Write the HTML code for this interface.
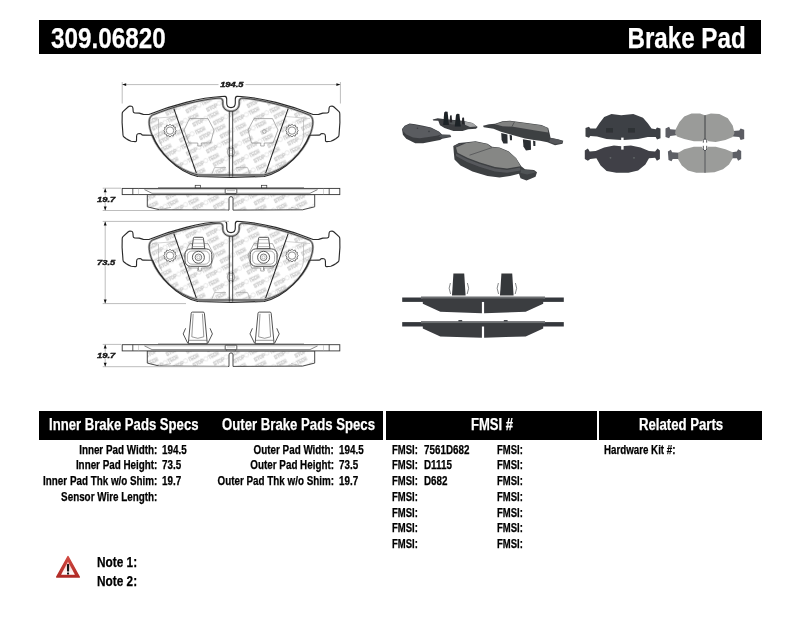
<!DOCTYPE html>
<html><head><meta charset="utf-8"><title>309.06820 Brake Pad</title>
<style>
html,body{margin:0;padding:0;background:#fff;}
body{width:800px;height:619px;position:relative;overflow:hidden;font-family:"Liberation Sans",sans-serif;font-weight:bold;}
.bar{position:absolute;background:#000;}
.t{position:absolute;white-space:pre;display:block;-webkit-text-stroke:0.25px currentColor;}
svg{position:absolute;left:0;top:0;}
</style></head><body>
<div class="bar" style="left:39px;top:20.3px;width:722.4px;height:34.2px"></div>
<div class="bar" style="left:39px;top:410.5px;width:344px;height:29.5px"></div>
<div class="bar" style="left:386px;top:410.5px;width:210.7px;height:29.5px"></div>
<div class="bar" style="left:599.4px;top:410.5px;width:163px;height:29.5px"></div>
<svg width="800" height="619" viewBox="0 0 800 619">
<defs>
<pattern id="wm" width="38" height="15" patternUnits="userSpaceOnUse" patternTransform="rotate(-27)">
<g font-family="Liberation Sans, sans-serif" font-weight="bold" font-size="5.2" fill="#e2e2e2" stroke="#c9c9c9" stroke-width="0.45">
<text x="1" y="6" textLength="12" lengthAdjust="spacingAndGlyphs">STOP</text><circle cx="15.5" cy="4" r="2.1" fill="none"/><text x="18.5" y="6" textLength="11" lengthAdjust="spacingAndGlyphs">TECH</text>
<text x="20" y="13.5" textLength="12" lengthAdjust="spacingAndGlyphs">STOP</text><circle cx="34.5" cy="11.5" r="2.1" fill="none"/><text x="-0.5" y="13.5" textLength="11" lengthAdjust="spacingAndGlyphs">TECH</text>
</g>
</pattern>
<filter id="b0" x="-2%" y="-2%" width="104%" height="104%"><feGaussianBlur stdDeviation="0.32"/></filter>
<filter id="b1" x="-5%" y="-5%" width="110%" height="110%"><feGaussianBlur stdDeviation="0.45"/></filter>
<filter id="b2" x="-5%" y="-5%" width="110%" height="110%"><feGaussianBlur stdDeviation="0.7"/></filter>
<marker id="ar" viewBox="0 0 10 10" refX="10" refY="5" markerWidth="7" markerHeight="5" orient="auto-start-reverse"><path d="M0 1.5 L10 5 L0 8.5z" fill="#222"/></marker>
</defs>
<g filter="url(#b0)">
<path d="M122.2 84.6 L218.5 84.6 M245.5 84.6 L340.4 84.6 M122.2 82 L122.2 103.5 M340.4 82 L340.4 103.5" stroke="#bdbdbd" stroke-width="1.0" fill="none"/>
<polygon points="122.2,84.6 126.2,83.14999999999999 126.2,86.05" fill="#111"/>
<polygon points="340.4,84.6 336.4,83.14999999999999 336.4,86.05" fill="#111"/>
<text x="231.8" y="87.1" font-family="Liberation Sans, sans-serif" font-weight="bold" font-style="italic" font-size="7.8" fill="#161616" stroke="#161616" stroke-width="0.4" text-anchor="middle" textLength="23.2" lengthAdjust="spacingAndGlyphs">194.5</text>
<g transform="translate(0,0)">
<path d="M231.0 107.6 C228.40 107.60 226.70 105.60 226.70 103.00 L226.70 99.30 C226.70 97.60 226.40 96.60 225.00 96.40 L221.00 96.50 C201.00 97.60 172.00 105.00 148.90 114.50 L143.30 114.40 L139.20 113.10 L134.60 112.90 Q133.20 112.70 133.20 111.50 L132.90 108.00 Q132.80 106.40 131.50 106.20 L130.00 106.10 Q129.00 106.10 128.00 107.00 L123.00 111.70 Q122.20 112.50 122.20 113.80 L122.10 122.60 L123.00 135.00 Q123.10 136.30 124.00 137.00 L126.30 138.80 Q128.50 140.40 131.20 141.20 L135.30 141.60 Q136.50 141.70 136.50 140.50 L136.60 136.00 Q136.70 134.20 138.00 133.80 L140.00 133.50 Q141.00 133.50 141.50 134.40 Q142.00 135.10 143.00 135.10 L152.60 135.30 C158.00 150.00 175.00 171.00 197.80 176.50 L231.00 177.40 L264.20 176.50 C287.00 171.00 304.00 150.00 309.40 135.30 L319.00 135.10 Q320.00 135.10 320.50 134.40 Q321.00 133.50 322.00 133.50 L324.00 133.80 Q325.30 134.20 325.40 136.00 L325.50 140.50 Q325.50 141.70 326.70 141.60 L330.80 141.20 Q333.50 140.40 335.70 138.80 L338.00 137.00 Q338.90 136.30 339.00 135.00 L339.90 122.60 L339.80 113.80 Q339.80 112.50 339.00 111.70 L334.00 107.00 Q333.00 106.10 332.00 106.10 L330.50 106.20 Q329.20 106.40 329.10 108.00 L328.80 111.50 Q328.80 112.70 327.40 112.90 L322.80 113.10 L318.70 114.40 L313.10 114.50 C290.00 105.00 261.00 97.60 241.00 96.50 L237.00 96.40 C235.60 96.60 235.30 97.60 235.30 99.30 L235.30 103.00 C235.30 105.60 233.60 107.60 231.00 107.60Z" fill="#fff"/>
<path d="M231.0 111.3 C226.0 111.3 222.8 108 222.8 104 L222.8 101.5 C222.8 99.3 221.5 98.1 219.0 98.1 C201 99.4 173 106.5 152.2 115.2 C148.6 117.5 147.6 124 152.5 136.3 C158.5 151.5 176 170 198.3 175 L263.7 175 C286.0 170 303.5 151.5 309.5 136.3 C314.4 124 313.4 117.5 309.8 115.2 C289.0 106.5 261.0 99.4 243.0 98.1 C240.5 98.1 239.2 99.3 239.2 101.5 L239.2 104 C239.2 108 236.0 111.3 231.0 111.3Z" fill="url(#wm)"/>
<path d="M184 130 L189.5 118.6 L208 118.6 L214 130 L210.5 143 L201.3 143 L201.3 146 L197.8 146 L197.8 143 L189 143Z" fill="none" stroke="#8a8a8a" stroke-width="0.7"/>
<path d="M158.5 119 L158.5 137 Q159 141 162 146" fill="none" stroke="#aaa" stroke-width="0.6"/>
<path d="M152 118.5 L176 116.5" fill="none" stroke="#b5b5b5" stroke-width="0.6"/>
<polygon points="176.40,130.60 174.95,131.93 175.54,133.80 173.62,134.22 173.20,136.14 171.33,135.55 170.00,137.00 168.67,135.55 166.80,136.14 166.38,134.22 164.46,133.80 165.05,131.93 163.60,130.60 165.05,129.27 164.46,127.40 166.38,126.98 166.80,125.06 168.67,125.65 170.00,124.20 171.33,125.65 173.20,125.06 173.62,126.98 175.54,127.40 174.95,129.27" fill="#fff" stroke="#777" stroke-width="1.0"/><circle cx="170" cy="130.6" r="3.71" fill="#fff" stroke="#808080" stroke-width="0.9"/>
<path d="M173.4 107.3 L197.6 176.6" stroke="#222" stroke-width="1.05" fill="none"/>
<path d="M278.0 130 L272.5 118.6 L254.0 118.6 L248.0 130 L251.5 143 L260.7 143 L260.7 146 L264.2 146 L264.2 143 L273.0 143Z" fill="none" stroke="#8a8a8a" stroke-width="0.7"/>
<path d="M303.5 119 L303.5 137 Q303.0 141 300.0 146" fill="none" stroke="#aaa" stroke-width="0.6"/>
<path d="M310.0 118.5 L286.0 116.5" fill="none" stroke="#b5b5b5" stroke-width="0.6"/>
<polygon points="298.40,130.60 296.95,131.93 297.54,133.80 295.62,134.22 295.20,136.14 293.33,135.55 292.00,137.00 290.67,135.55 288.80,136.14 288.38,134.22 286.46,133.80 287.05,131.93 285.60,130.60 287.05,129.27 286.46,127.40 288.38,126.98 288.80,125.06 290.67,125.65 292.00,124.20 293.33,125.65 295.20,125.06 295.62,126.98 297.54,127.40 296.95,129.27" fill="#fff" stroke="#777" stroke-width="1.0"/><circle cx="292.0" cy="130.6" r="3.71" fill="#fff" stroke="#808080" stroke-width="0.9"/>
<path d="M288.6 107.3 L264.4 176.6" stroke="#222" stroke-width="1.05" fill="none"/>
<circle cx="264.4" cy="131.5" r="1.9" fill="none" stroke="#888" stroke-width="0.6"/>
<path d="M211 176 L214.5 167.6 L226 167.6 M236 167.6 L247.5 167.6 L251 176" fill="none" stroke="#999" stroke-width="0.6"/>
<path d="M231.0 111.3 C226.0 111.3 222.8 108 222.8 104 L222.8 101.5 C222.8 99.3 221.5 98.1 219.0 98.1 C201 99.4 173 106.5 152.2 115.2 C148.6 117.5 147.6 124 152.5 136.3 C158.5 151.5 176 170 198.3 175 L263.7 175 C286.0 170 303.5 151.5 309.5 136.3 C314.4 124 313.4 117.5 309.8 115.2 C289.0 106.5 261.0 99.4 243.0 98.1 C240.5 98.1 239.2 99.3 239.2 101.5 L239.2 104 C239.2 108 236.0 111.3 231.0 111.3Z" fill="none" stroke="#b0b0b0" stroke-width="2.4" stroke-linejoin="round"/>
<path d="M231.0 111.3 C226.0 111.3 222.8 108 222.8 104 L222.8 101.5 C222.8 99.3 221.5 98.1 219.0 98.1 C201 99.4 173 106.5 152.2 115.2 C148.6 117.5 147.6 124 152.5 136.3 C158.5 151.5 176 170 198.3 175 L263.7 175 C286.0 170 303.5 151.5 309.5 136.3 C314.4 124 313.4 117.5 309.8 115.2 C289.0 106.5 261.0 99.4 243.0 98.1 C240.5 98.1 239.2 99.3 239.2 101.5 L239.2 104 C239.2 108 236.0 111.3 231.0 111.3Z" fill="none" stroke="#383838" stroke-width="0.9" stroke-linejoin="round"/>
<path d="M231.0 107.6 C228.40 107.60 226.70 105.60 226.70 103.00 L226.70 99.30 C226.70 97.60 226.40 96.60 225.00 96.40 L221.00 96.50 C201.00 97.60 172.00 105.00 148.90 114.50 L143.30 114.40 L139.20 113.10 L134.60 112.90 Q133.20 112.70 133.20 111.50 L132.90 108.00 Q132.80 106.40 131.50 106.20 L130.00 106.10 Q129.00 106.10 128.00 107.00 L123.00 111.70 Q122.20 112.50 122.20 113.80 L122.10 122.60 L123.00 135.00 Q123.10 136.30 124.00 137.00 L126.30 138.80 Q128.50 140.40 131.20 141.20 L135.30 141.60 Q136.50 141.70 136.50 140.50 L136.60 136.00 Q136.70 134.20 138.00 133.80 L140.00 133.50 Q141.00 133.50 141.50 134.40 Q142.00 135.10 143.00 135.10 L152.60 135.30 C158.00 150.00 175.00 171.00 197.80 176.50 L231.00 177.40 L264.20 176.50 C287.00 171.00 304.00 150.00 309.40 135.30 L319.00 135.10 Q320.00 135.10 320.50 134.40 Q321.00 133.50 322.00 133.50 L324.00 133.80 Q325.30 134.20 325.40 136.00 L325.50 140.50 Q325.50 141.70 326.70 141.60 L330.80 141.20 Q333.50 140.40 335.70 138.80 L338.00 137.00 Q338.90 136.30 339.00 135.00 L339.90 122.60 L339.80 113.80 Q339.80 112.50 339.00 111.70 L334.00 107.00 Q333.00 106.10 332.00 106.10 L330.50 106.20 Q329.20 106.40 329.10 108.00 L328.80 111.50 Q328.80 112.70 327.40 112.90 L322.80 113.10 L318.70 114.40 L313.10 114.50 C290.00 105.00 261.00 97.60 241.00 96.50 L237.00 96.40 C235.60 96.60 235.30 97.60 235.30 99.30 L235.30 103.00 C235.30 105.60 233.60 107.60 231.00 107.60Z" fill="none" stroke="#2c2c2c" stroke-width="1.15" stroke-linejoin="round"/>
<path d="M229.3 111 L229.3 176.6 M232.7 111 L232.7 176.6" stroke="#333" stroke-width="0.9" fill="none"/>
<circle cx="231.0" cy="152" r="3.8" fill="#fff" stroke="#909090" stroke-width="0.8"/><circle cx="231.0" cy="152" r="2.1" fill="none" stroke="#a0a0a0" stroke-width="0.6"/>
<path d="M229.3 147 L229.3 157 M232.7 147 L232.7 157" stroke="#333" stroke-width="0.9" fill="none"/>
</g>
<g transform="translate(0,0)">
<path d="M147.3 194.6 L147.3 206.8 L159.5 209.8 L229.0 210.1 L229.0 198.6 Q229.0 196.6 231.0 196.6 Q233.0 196.6 233.0 198.6 L233.0 210.1 L302.5 209.8 L314.7 206.8 L314.7 194.6Z" fill="#fff"/><path d="M147.3 194.6 L147.3 206.8 L159.5 209.8 L229.0 210.1 L229.0 198.6 Q229.0 196.6 231.0 196.6 Q233.0 196.6 233.0 198.6 L233.0 210.1 L302.5 209.8 L314.7 206.8 L314.7 194.6Z" fill="url(#wm)"/>
<path d="M147.3 194.6 L147.3 206.8 L159.5 209.8 L229.0 210.1 L229.0 198.6 Q229.0 196.6 231.0 196.6 Q233.0 196.6 233.0 198.6 L233.0 210.1 L302.5 209.8 L314.7 206.8 L314.7 194.6Z" fill="none" stroke="#333" stroke-width="0.9" stroke-linejoin="round"/>
<path d="M159.5 209.8 L171 207.3 M302.5 209.8 L291.0 207.3" stroke="#888" stroke-width="0.5"/>
<rect x="122.2" y="188.4" width="217.60000000000002" height="6.2" fill="#fff" stroke="#333" stroke-width="0.9"/>
<path d="M132.8 188.4 L132.8 194.6 M329.2 188.4 L329.2 194.6" stroke="#333" stroke-width="0.8"/>
<path d="M138.5 188.6 L138.5 194.4 M323.5 188.6 L323.5 194.4" stroke="#aaa" stroke-width="0.5"/>
<path d="M144.5 189.6 L152 193.3 L310.0 193.3 L317.5 189.6" fill="none" stroke="#555" stroke-width="0.7"/>
<path d="M144.5 189.6 L317.5 189.6" fill="none" stroke="#999" stroke-width="0.5"/>
<path d="M158 187.7 L304.0 187.7" stroke="#555" stroke-width="0.7"/>
<rect x="195.2" y="185.3" width="5.4" height="2.5" fill="#fff" stroke="#333" stroke-width="0.7"/>
<rect x="261.4" y="185.3" width="5.4" height="2.5" fill="#fff" stroke="#333" stroke-width="0.7"/>
<rect x="225.2" y="188.9" width="11.6" height="4.5" rx="0.6" fill="#fff" stroke="#333" stroke-width="0.8"/>
<path d="M226.6 193.4 L226.6 194.6 M235.4 193.4 L235.4 194.6" stroke="#444" stroke-width="0.6"/>
<path d="M227.0 190.6 L235.0 190.6" stroke="#888" stroke-width="0.5"/>
</g>
<g transform="translate(0,125)">
<path d="M231.0 107.6 C228.40 107.60 226.70 105.60 226.70 103.00 L226.70 99.30 C226.70 97.60 226.40 96.60 225.00 96.40 L221.00 96.50 C201.00 97.60 172.00 105.00 148.90 114.50 L143.30 114.40 L139.20 113.10 L134.60 112.90 Q133.20 112.70 133.20 111.50 L132.90 108.00 Q132.80 106.40 131.50 106.20 L130.00 106.10 Q129.00 106.10 128.00 107.00 L123.00 111.70 Q122.20 112.50 122.20 113.80 L122.10 122.60 L123.00 135.00 Q123.10 136.30 124.00 137.00 L126.30 138.80 Q128.50 140.40 131.20 141.20 L135.30 141.60 Q136.50 141.70 136.50 140.50 L136.60 136.00 Q136.70 134.20 138.00 133.80 L140.00 133.50 Q141.00 133.50 141.50 134.40 Q142.00 135.10 143.00 135.10 L152.60 135.30 C158.00 150.00 175.00 171.00 197.80 176.50 L231.00 177.40 L264.20 176.50 C287.00 171.00 304.00 150.00 309.40 135.30 L319.00 135.10 Q320.00 135.10 320.50 134.40 Q321.00 133.50 322.00 133.50 L324.00 133.80 Q325.30 134.20 325.40 136.00 L325.50 140.50 Q325.50 141.70 326.70 141.60 L330.80 141.20 Q333.50 140.40 335.70 138.80 L338.00 137.00 Q338.90 136.30 339.00 135.00 L339.90 122.60 L339.80 113.80 Q339.80 112.50 339.00 111.70 L334.00 107.00 Q333.00 106.10 332.00 106.10 L330.50 106.20 Q329.20 106.40 329.10 108.00 L328.80 111.50 Q328.80 112.70 327.40 112.90 L322.80 113.10 L318.70 114.40 L313.10 114.50 C290.00 105.00 261.00 97.60 241.00 96.50 L237.00 96.40 C235.60 96.60 235.30 97.60 235.30 99.30 L235.30 103.00 C235.30 105.60 233.60 107.60 231.00 107.60Z" fill="#fff"/>
<path d="M231.0 111.3 C226.0 111.3 222.8 108 222.8 104 L222.8 101.5 C222.8 99.3 221.5 98.1 219.0 98.1 C201 99.4 173 106.5 152.2 115.2 C148.6 117.5 147.6 124 152.5 136.3 C158.5 151.5 176 170 198.3 175 L263.7 175 C286.0 170 303.5 151.5 309.5 136.3 C314.4 124 313.4 117.5 309.8 115.2 C289.0 106.5 261.0 99.4 243.0 98.1 C240.5 98.1 239.2 99.3 239.2 101.5 L239.2 104 C239.2 108 236.0 111.3 231.0 111.3Z" fill="url(#wm)"/>
<path d="M184 130 L189.5 118.6 L208 118.6 L214 130 L210.5 143 L201.3 143 L201.3 146 L197.8 146 L197.8 143 L189 143Z" fill="none" stroke="#8a8a8a" stroke-width="0.7"/>
<path d="M158.5 119 L158.5 137 Q159 141 162 146" fill="none" stroke="#aaa" stroke-width="0.6"/>
<path d="M152 118.5 L176 116.5" fill="none" stroke="#b5b5b5" stroke-width="0.6"/>
<polygon points="176.40,130.60 174.95,131.93 175.54,133.80 173.62,134.22 173.20,136.14 171.33,135.55 170.00,137.00 168.67,135.55 166.80,136.14 166.38,134.22 164.46,133.80 165.05,131.93 163.60,130.60 165.05,129.27 164.46,127.40 166.38,126.98 166.80,125.06 168.67,125.65 170.00,124.20 171.33,125.65 173.20,125.06 173.62,126.98 175.54,127.40 174.95,129.27" fill="#fff" stroke="#777" stroke-width="1.0"/><circle cx="170" cy="130.6" r="3.71" fill="#fff" stroke="#808080" stroke-width="0.9"/>
<path d="M173.4 107.3 L197.6 176.6" stroke="#222" stroke-width="1.05" fill="none"/>
<path d="M278.0 130 L272.5 118.6 L254.0 118.6 L248.0 130 L251.5 143 L260.7 143 L260.7 146 L264.2 146 L264.2 143 L273.0 143Z" fill="none" stroke="#8a8a8a" stroke-width="0.7"/>
<path d="M303.5 119 L303.5 137 Q303.0 141 300.0 146" fill="none" stroke="#aaa" stroke-width="0.6"/>
<path d="M310.0 118.5 L286.0 116.5" fill="none" stroke="#b5b5b5" stroke-width="0.6"/>
<polygon points="298.40,130.60 296.95,131.93 297.54,133.80 295.62,134.22 295.20,136.14 293.33,135.55 292.00,137.00 290.67,135.55 288.80,136.14 288.38,134.22 286.46,133.80 287.05,131.93 285.60,130.60 287.05,129.27 286.46,127.40 288.38,126.98 288.80,125.06 290.67,125.65 292.00,124.20 293.33,125.65 295.20,125.06 295.62,126.98 297.54,127.40 296.95,129.27" fill="#fff" stroke="#777" stroke-width="1.0"/><circle cx="292.0" cy="130.6" r="3.71" fill="#fff" stroke="#808080" stroke-width="0.9"/>
<path d="M288.6 107.3 L264.4 176.6" stroke="#222" stroke-width="1.05" fill="none"/>
<path d="M211 176 L214.5 167.6 L226 167.6 M236 167.6 L247.5 167.6 L251 176" fill="none" stroke="#999" stroke-width="0.6"/>
<path d="M231.0 111.3 C226.0 111.3 222.8 108 222.8 104 L222.8 101.5 C222.8 99.3 221.5 98.1 219.0 98.1 C201 99.4 173 106.5 152.2 115.2 C148.6 117.5 147.6 124 152.5 136.3 C158.5 151.5 176 170 198.3 175 L263.7 175 C286.0 170 303.5 151.5 309.5 136.3 C314.4 124 313.4 117.5 309.8 115.2 C289.0 106.5 261.0 99.4 243.0 98.1 C240.5 98.1 239.2 99.3 239.2 101.5 L239.2 104 C239.2 108 236.0 111.3 231.0 111.3Z" fill="none" stroke="#b0b0b0" stroke-width="2.4" stroke-linejoin="round"/>
<path d="M231.0 111.3 C226.0 111.3 222.8 108 222.8 104 L222.8 101.5 C222.8 99.3 221.5 98.1 219.0 98.1 C201 99.4 173 106.5 152.2 115.2 C148.6 117.5 147.6 124 152.5 136.3 C158.5 151.5 176 170 198.3 175 L263.7 175 C286.0 170 303.5 151.5 309.5 136.3 C314.4 124 313.4 117.5 309.8 115.2 C289.0 106.5 261.0 99.4 243.0 98.1 C240.5 98.1 239.2 99.3 239.2 101.5 L239.2 104 C239.2 108 236.0 111.3 231.0 111.3Z" fill="none" stroke="#383838" stroke-width="0.9" stroke-linejoin="round"/>
<path d="M231.0 107.6 C228.40 107.60 226.70 105.60 226.70 103.00 L226.70 99.30 C226.70 97.60 226.40 96.60 225.00 96.40 L221.00 96.50 C201.00 97.60 172.00 105.00 148.90 114.50 L143.30 114.40 L139.20 113.10 L134.60 112.90 Q133.20 112.70 133.20 111.50 L132.90 108.00 Q132.80 106.40 131.50 106.20 L130.00 106.10 Q129.00 106.10 128.00 107.00 L123.00 111.70 Q122.20 112.50 122.20 113.80 L122.10 122.60 L123.00 135.00 Q123.10 136.30 124.00 137.00 L126.30 138.80 Q128.50 140.40 131.20 141.20 L135.30 141.60 Q136.50 141.70 136.50 140.50 L136.60 136.00 Q136.70 134.20 138.00 133.80 L140.00 133.50 Q141.00 133.50 141.50 134.40 Q142.00 135.10 143.00 135.10 L152.60 135.30 C158.00 150.00 175.00 171.00 197.80 176.50 L231.00 177.40 L264.20 176.50 C287.00 171.00 304.00 150.00 309.40 135.30 L319.00 135.10 Q320.00 135.10 320.50 134.40 Q321.00 133.50 322.00 133.50 L324.00 133.80 Q325.30 134.20 325.40 136.00 L325.50 140.50 Q325.50 141.70 326.70 141.60 L330.80 141.20 Q333.50 140.40 335.70 138.80 L338.00 137.00 Q338.90 136.30 339.00 135.00 L339.90 122.60 L339.80 113.80 Q339.80 112.50 339.00 111.70 L334.00 107.00 Q333.00 106.10 332.00 106.10 L330.50 106.20 Q329.20 106.40 329.10 108.00 L328.80 111.50 Q328.80 112.70 327.40 112.90 L322.80 113.10 L318.70 114.40 L313.10 114.50 C290.00 105.00 261.00 97.60 241.00 96.50 L237.00 96.40 C235.60 96.60 235.30 97.60 235.30 99.30 L235.30 103.00 C235.30 105.60 233.60 107.60 231.00 107.60Z" fill="none" stroke="#2c2c2c" stroke-width="1.15" stroke-linejoin="round"/>
<path d="M229.3 111 L229.3 176.6 M232.7 111 L232.7 176.6" stroke="#333" stroke-width="0.9" fill="none"/>
<circle cx="231.0" cy="152" r="3.8" fill="#fff" stroke="#909090" stroke-width="0.8"/><circle cx="231.0" cy="152" r="2.1" fill="none" stroke="#a0a0a0" stroke-width="0.6"/>
<path d="M229.3 147 L229.3 157 M232.7 147 L232.7 157" stroke="#333" stroke-width="0.9" fill="none"/>
<g stroke="#3a3a3a" stroke-width="0.9" fill="#fff" stroke-linejoin="round">
<path d="M192.0 123.9 L193.4 113.2 Q193.5 112.3 194.4 112.3 L202.4 112.3 Q203.3 112.3 203.4 113.2 L204.8 123.9Z"/>
<path d="M193.20000000000002 114.6 L203.6 114.6 M192.70000000000002 118.2 L204.1 118.2 M192.3 121.6 L204.5 121.6" stroke="#888" stroke-width="0.6"/>
<rect x="185.0" y="123.9" width="26.8" height="17.4" rx="5.5" ry="5.5"/>
<rect x="187.4" y="126" width="22" height="13.2" rx="4.5" ry="4.5" stroke="#777" stroke-width="0.6"/>
<circle cx="198.4" cy="132.3" r="6" stroke="#444"/><circle cx="198.4" cy="132.3" r="3.3" stroke="#555" stroke-width="0.8"/><circle cx="198.4" cy="132.3" r="1.6" stroke="#888" stroke-width="0.5"/>
<path d="M198.4 141.3 L198.4 145" stroke-width="0.7" stroke="#666"/>
</g>
<g stroke="#3a3a3a" stroke-width="0.9" fill="#fff" stroke-linejoin="round">
<path d="M257.20000000000005 123.9 L258.6 113.2 Q258.70000000000005 112.3 259.6 112.3 L267.6 112.3 Q268.5 112.3 268.6 113.2 L270.0 123.9Z"/>
<path d="M258.40000000000003 114.6 L268.8 114.6 M257.90000000000003 118.2 L269.3 118.2 M257.5 121.6 L269.70000000000005 121.6" stroke="#888" stroke-width="0.6"/>
<rect x="250.20000000000002" y="123.9" width="26.8" height="17.4" rx="5.5" ry="5.5"/>
<rect x="252.60000000000002" y="126" width="22" height="13.2" rx="4.5" ry="4.5" stroke="#777" stroke-width="0.6"/>
<circle cx="263.6" cy="132.3" r="6" stroke="#444"/><circle cx="263.6" cy="132.3" r="3.3" stroke="#555" stroke-width="0.8"/><circle cx="263.6" cy="132.3" r="1.6" stroke="#888" stroke-width="0.5"/>
<path d="M263.6 141.3 L263.6 145" stroke-width="0.7" stroke="#666"/>
</g>
</g>
<g transform="translate(0,156.3)">
<g stroke="#333" stroke-width="0.85" fill="#fff" stroke-linejoin="round">
<path d="M185.60000000000002 172 L183.20000000000002 177.6 L187.8 187" fill="none"/>
<path d="M210.0 172 L212.4 177.6 L207.8 187" fill="none"/>
<path d="M188.3 187.4 L191.20000000000002 157 Q191.3 155.8 192.5 155.8 L203.10000000000002 155.8 Q204.3 155.8 204.4 157 L207.3 187.4Z"/>
<path d="M193.20000000000002 157.5 L191.8 180.5 Q197.8 183.5 203.8 180.5 L202.4 157.5" fill="none" stroke="#555" stroke-width="0.6"/>
<path d="M188.60000000000002 184 L207.0 184" stroke="#555" stroke-width="0.6"/>
</g>
<g stroke="#333" stroke-width="0.85" fill="#fff" stroke-linejoin="round">
<path d="M252.40000000000003 172 L250.00000000000003 177.6 L254.60000000000002 187" fill="none"/>
<path d="M276.8 172 L279.20000000000005 177.6 L274.6 187" fill="none"/>
<path d="M255.10000000000002 187.4 L258.0 157 Q258.1 155.8 259.3 155.8 L269.90000000000003 155.8 Q271.1 155.8 271.20000000000005 157 L274.1 187.4Z"/>
<path d="M260.0 157.5 L258.6 180.5 Q264.6 183.5 270.6 180.5 L269.20000000000005 157.5" fill="none" stroke="#555" stroke-width="0.6"/>
<path d="M255.40000000000003 184 L273.8 184" stroke="#555" stroke-width="0.6"/>
</g>
<path d="M147.3 194.6 L147.3 206.8 L159.5 209.8 L229.0 210.1 L229.0 198.6 Q229.0 196.6 231.0 196.6 Q233.0 196.6 233.0 198.6 L233.0 210.1 L302.5 209.8 L314.7 206.8 L314.7 194.6Z" fill="#fff"/><path d="M147.3 194.6 L147.3 206.8 L159.5 209.8 L229.0 210.1 L229.0 198.6 Q229.0 196.6 231.0 196.6 Q233.0 196.6 233.0 198.6 L233.0 210.1 L302.5 209.8 L314.7 206.8 L314.7 194.6Z" fill="url(#wm)"/>
<path d="M147.3 194.6 L147.3 206.8 L159.5 209.8 L229.0 210.1 L229.0 198.6 Q229.0 196.6 231.0 196.6 Q233.0 196.6 233.0 198.6 L233.0 210.1 L302.5 209.8 L314.7 206.8 L314.7 194.6Z" fill="none" stroke="#333" stroke-width="0.9" stroke-linejoin="round"/>
<path d="M159.5 209.8 L171 207.3 M302.5 209.8 L291.0 207.3" stroke="#888" stroke-width="0.5"/>
<rect x="122.2" y="188.4" width="217.60000000000002" height="6.2" fill="#fff" stroke="#333" stroke-width="0.9"/>
<path d="M132.8 188.4 L132.8 194.6 M329.2 188.4 L329.2 194.6" stroke="#333" stroke-width="0.8"/>
<path d="M138.5 188.6 L138.5 194.4 M323.5 188.6 L323.5 194.4" stroke="#aaa" stroke-width="0.5"/>
<path d="M144.5 189.6 L152 193.3 L310.0 193.3 L317.5 189.6" fill="none" stroke="#555" stroke-width="0.7"/>
<path d="M144.5 189.6 L317.5 189.6" fill="none" stroke="#999" stroke-width="0.5"/>
<path d="M158 187.7 L304.0 187.7" stroke="#555" stroke-width="0.7"/>
<rect x="225.2" y="188.9" width="11.6" height="4.5" rx="0.6" fill="#fff" stroke="#333" stroke-width="0.8"/>
<path d="M226.6 193.4 L226.6 194.6 M235.4 193.4 L235.4 194.6" stroke="#444" stroke-width="0.6"/>
<path d="M227.0 190.6 L235.0 190.6" stroke="#888" stroke-width="0.5"/>
</g>
<path d="M105.2 188.2 L105.2 195.5 M105.2 202.7 L105.2 210.5 M102.7 188.2 L121 188.2 M102.7 210.5 L228 210.5" stroke="#bdbdbd" stroke-width="1.0" fill="none"/>
<polygon points="105.2,188.2 103.75,192.2 106.65,192.2" fill="#111"/>
<polygon points="105.2,210.5 103.75,206.5 106.65,206.5" fill="#111"/>
<text x="106.2" y="201.9" font-family="Liberation Sans, sans-serif" font-weight="bold" font-style="italic" font-size="7.8" fill="#161616" stroke="#161616" stroke-width="0.4" text-anchor="middle" textLength="18.2" lengthAdjust="spacingAndGlyphs">19.7</text>
<path d="M105.2 221.4 L105.2 258.99999999999994 M105.2 266.2 L105.2 303.6 M102.7 221.4 L229 221.4 M102.7 303.6 L186 303.6" stroke="#bdbdbd" stroke-width="1.0" fill="none"/>
<polygon points="105.2,221.4 103.75,225.4 106.65,225.4" fill="#111"/>
<polygon points="105.2,303.6 103.75,299.6 106.65,299.6" fill="#111"/>
<text x="106.2" y="265.4" font-family="Liberation Sans, sans-serif" font-weight="bold" font-style="italic" font-size="7.8" fill="#161616" stroke="#161616" stroke-width="0.4" text-anchor="middle" textLength="18.2" lengthAdjust="spacingAndGlyphs">73.5</text>
<path d="M105.2 344.4 L105.2 351.7 M105.2 358.90000000000003 L105.2 366.7 M102.7 344.4 L121 344.4 M102.7 366.7 L228 366.7" stroke="#bdbdbd" stroke-width="1.0" fill="none"/>
<polygon points="105.2,344.4 103.75,348.4 106.65,348.4" fill="#111"/>
<polygon points="105.2,366.7 103.75,362.7 106.65,362.7" fill="#111"/>
<text x="106.2" y="358.1" font-family="Liberation Sans, sans-serif" font-weight="bold" font-style="italic" font-size="7.8" fill="#161616" stroke="#161616" stroke-width="0.4" text-anchor="middle" textLength="18.2" lengthAdjust="spacingAndGlyphs">19.7</text>
</g>
<g filter="url(#b1)"><defs><linearGradient id="tg" x1="0" y1="0" x2="0" y2="1"><stop offset="0" stop-color="#f3a8a2"/><stop offset="0.6" stop-color="#fbe9e7"/><stop offset="1" stop-color="#ffffff"/></linearGradient>
<linearGradient id="tr" x1="0" y1="0" x2="0" y2="1"><stop offset="0" stop-color="#d24a42"/><stop offset="1" stop-color="#b02a25"/></linearGradient></defs>
<path d="M68 556.6 L79.3 577 L56.7 577Z" fill="url(#tr)" stroke="url(#tr)" stroke-width="1.5" stroke-linejoin="round"/>
<path d="M68 561.6 L74.9 574.7 L61.1 574.7Z" fill="url(#tg)"/>
<rect x="67" y="563.9" width="2.1" height="7.6" rx="0.5" fill="#151515"/><rect x="67" y="572.5" width="2.1" height="1.9" rx="0.5" fill="#151515"/></g>
<g filter="url(#b2)">
<polygon points="402,129.2 404.6,125.8 409.6,123.6 415.25,124.35 423.1,125.8 431,127.5 438.9,131.4 442.25,134.8 450.1,134.8 451.25,137.1 442.25,138.75 440,139.9 432.1,141.6 423.1,143.25 415.25,143.25 406.25,138.75 402.9,134.8" fill="#3b3d41" />
<polygon points="402.4,128.85 404.9,126.15 409.6,124.1 423.1,126.4 431,128.1 438.9,132 441.1,134.5 437.75,135.6 428.75,137.1 419.75,138.2 413,137.6 406.25,134.5 402.9,131.1" fill="#5a5c60" />
<polygon points="441.1,134.6 449.8,135 450.8,136.6 442.4,137.9 439,136.4" fill="#505256" />
<circle cx="417.5" cy="128.2" r="0.8" fill="#3c3e42"/><circle cx="429" cy="131.4" r="0.8" fill="#3c3e42"/>
<polygon points="432.7,119.4 437.75,118.3 443.4,119.1 462.5,120.75 472.6,123 477.7,126.9 476,128.85 468.1,129.2 462.5,130.9 453.5,130.9 444.5,128.1 440,125.25 438.3,120.75 433.25,120.5" fill="#3a3c40" />
<polygon points="464.6,121.4 472.8,123.2 476.8,126.4 470,127 465,124.8" fill="#a3a4a5" />
<polygon points="443.4,119.6 462,121.2 464,124.6 452,124.6 445,122.6" fill="#505255" />
<polygon points="443.2,125 444.2,112.6 445.4,111.5 447.6,111.7 449,125" fill="#1f2125" />
<polygon points="454.8,126.6 456,114.8 457.2,113.8 459.4,114 460.8,126.6" fill="#1f2125" />
<polygon points="449.6,122.4 450,115.4 451.6,115.2 452.2,122.4" fill="#26282c" />
<polygon points="461.8,124.6 462.2,117.8 464,117.6 464.6,124.6" fill="#26282c" />
<polygon points="483,125.75 489,124.25 495,123.8 502.5,121.25 510,120.8 525,122.75 541.5,125 548.25,128 549.75,134 550.5,137.75 558,139.25 563.25,140.75 562.5,143.75 555,145.25 547.5,142.25 540,140.75 534,140 525,138.5 511.5,134.75 501,131.75 493.5,128.75 483.75,127.25" fill="#3e4043" />
<polygon points="495,124.25 503.25,121.7 510,121.25 525,123.2 541.5,125.45 547.5,128 548.25,132.5 534,130.25 513,126.8 502.5,126.2" fill="#818281" />
<path d="M514.5 121.9 L511.8 126.8" stroke="#4a4c4e" stroke-width="0.8"/>
<polygon points="550.6,138 558,139.6 562.6,141 562,143 555,144 549,141.8" fill="#55575a" />
<polygon points="501.2,133 507.4,134.4 507.6,143.4 503.4,143.6 501.6,140" fill="#2c2e32" />
<polygon points="509.6,134.8 512,135.4 512,140.2 510,140.2" fill="#2c2e32" />
<polygon points="522.9,139.2 530.8,140.6 531,149.8 526,150.6 523.4,146.6" fill="#2c2e32" />
<polygon points="533,140.6 535.4,141.2 535.4,146 533.4,146" fill="#2c2e32" />
<polygon points="453.3,146 459,143 466.5,142.25 475.5,141.2 487.5,143.75 492,146.75 499.5,147.5 508.5,151.25 516,158 521.25,166.25 525,169.25 534,170 537,172.25 535.5,176.75 526.5,180.5 520.5,178.25 519,173.75 510,176 499.5,177.5 487.5,176 472.5,171.5 460.5,165.5 454.5,159.5 453.75,152" fill="#3d3f42" />
<polygon points="456,147.5 466.5,143 475.5,141.8 487.5,144.2 491.25,147.2 499.5,148 508.5,151.7 516,158.3 520.5,166.25 507,168.5 495,167 480,162.5 468,158 457.5,152.75" fill="#868785" />
<path d="M469.5 155.2 L492 147.6" stroke="#505254" stroke-width="0.8"/>
<polygon points="456,153.6 468,159.4 480,164 495,168.4 507,170 520,167.6 520.4,170.4 507,172.8 495,171.4 480,167 467,162 456,156" fill="#57595c" />
<polygon points="521,169.6 533.6,170.6 535.8,172.4 527,174.6 520.6,173" fill="#505255" />
<polygon points="453.6,146.2 459,143.4 462,143.6 456.4,147" fill="#4d4f52" />
<polygon points="585.5,128 589,126.8 590.3,128.6 596,128.6 599.4,123.2 604.2,117.1 611.5,114.1 621.2,115.3 633.3,114.1 643,117.7 647.8,123.2 651.5,128.6 655.7,129.2 657,127.4 660.5,128.6 660.5,138.3 657,139.5 655.7,137.1 647.8,137.1 638.1,138.9 623.6,140.1 622.4,139.5 621.2,140.1 606.6,138.9 597,136.5 590.3,135.9 589,137.7 585.5,136.5" fill="#3e4045" />
<polygon points="606,128 613,128 613,132.6 606,132.6" fill="#2f3136" />
<polygon points="628,128 635,128 635,132.6 628,132.6" fill="#2f3136" />
<polygon points="584.8,150.4 587.9,148.6 589.7,151.6 595.7,151 604.2,147.4 613.9,145.6 621.2,146.2 630.9,145.6 640.6,147.4 649,151 655.1,151.6 657.5,148.6 659.9,150.4 659.9,158.9 656.9,160.7 655.1,157.7 649,158.3 645.4,164.4 638.1,170.4 628.5,172.8 616.3,172.8 606.6,171 600.6,165.6 596.4,158.3 590.3,158.9 587.9,160.7 584.8,158.9" fill="#3f4146" />
<circle cx="610.5" cy="157.8" r="0.9" fill="#66686c"/><circle cx="634" cy="157.8" r="0.9" fill="#66686c"/>
<rect x="621.2" y="137.6" width="2.4" height="12" fill="#fff"/>
<polygon points="665.5,128.6 669.1,126.8 670.3,129.2 676.5,129.8 676,135.3 670.3,135.9 669.1,138.3 665.5,137.1" fill="#5b5d63" />
<polygon points="733,131 739.3,130.4 740.6,128.6 744.2,129.8 744.2,138.9 740.6,140.1 739.3,137.1 733,136.5" fill="#5b5d63" />
<polygon points="675.7,129.2 679.4,122 684.2,116.5 691.5,113.5 700,113.5 704.8,115.3 710.9,113.5 719.4,114.1 727.8,118.3 732.7,125.6 734.5,132.9 732.7,137.1 725.4,140.1 715.7,141.9 708.4,141.3 706.6,139.5 703.6,139.5 701.8,141.3 693.9,141.3 684.2,138.9 677,136.5 675.1,133.5" fill="#9a9b99" />
<path d="M705 115.3 L705 139.5" stroke="#47494c" stroke-width="1.1"/>
<polygon points="667.9,151.6 670.9,149.8 672.1,152.2 679,152.8 679,158.9 672.7,158.9 671.5,161.3 668.5,160.1" fill="#5d5f65" />
<polygon points="732,152.2 736.9,151.6 738.1,149.2 741.2,151 741.2,158.9 738.1,160.7 736.9,158.3 732,158.3" fill="#5d5f65" />
<polygon points="678.2,152.8 684.2,149.2 693.9,146.8 701.8,146.8 703.6,150.4 706.6,150.4 707.8,146.8 715.7,146.8 725.4,149.2 732.7,152.2 732.7,158.3 729,164.4 723,169.2 714.5,172.2 706,172.8 696.3,172.8 687.9,170.4 681.8,165.6 678.2,159.5" fill="#9b9c9a" />
<path d="M705 150.4 L705 172.8" stroke="#55575a" stroke-width="1"/>
<rect x="703.3" y="139" width="3.4" height="11.6" rx="1.7" fill="#fff" stroke="#3a3c3f" stroke-width="0.9"/>
<rect x="700" y="142.6" width="10" height="3.2" fill="#fff"/>
<rect x="402.2" y="297.5" width="161.59999999999997" height="4.4" fill="#36383c"/>
<rect x="421" y="296.5" width="124.0" height="2.2" fill="#6d6f72"/>
<polygon points="422.8,298.7 422.8,303.8 440.3,311.8 481.9,313.2 481.9,301.5 483.1,301.5 483.1,298.7" fill="#3a3c40" />
<polygon points="453.4,273.6 464.2,273.6 465.6,295.6 452.0,295.6" fill="#36373b" />
<path d="M450.4 283 Q447.8 288 450.6 294" stroke="#77797c" stroke-width="0.9" fill="none"/>
<path d="M467.4 283 Q470.0 288 467.2 294" stroke="#77797c" stroke-width="0.9" fill="none"/>
<polygon points="543.2,298.7 543.2,303.8 525.7,311.8 484.1,313.2 484.1,301.5 482.9,301.5 482.9,298.7" fill="#3a3c40" />
<polygon points="501.4,273.6 512.2,273.6 513.6,295.6 500.0,295.6" fill="#36373b" />
<path d="M498.4 283 Q495.8 288 498.6 294" stroke="#77797c" stroke-width="0.9" fill="none"/>
<path d="M515.4 283 Q518.0 288 515.2 294" stroke="#77797c" stroke-width="0.9" fill="none"/>
<rect x="402.2" y="322.1" width="161.59999999999997" height="4.4" fill="#36383c"/>
<rect x="421" y="321.1" width="124.0" height="2.2" fill="#6d6f72"/>
<polygon points="422.8,323.3 422.8,328.40000000000003 440.3,336.40000000000003 481.9,337.8 481.9,326.1 483.1,326.1 483.1,323.3" fill="#3a3c40" />
<rect x="458.4" y="320.0" width="3.8" height="1.6" fill="#4a4c50"/>
<polygon points="543.2,323.3 543.2,328.40000000000003 525.7,336.40000000000003 484.1,337.8 484.1,326.1 482.9,326.1 482.9,323.3" fill="#3a3c40" />
<rect x="503.8" y="320.0" width="3.8" height="1.6" fill="#4a4c50"/>
</g>
</svg>
<span class="t" style="left:51.3px;transform-origin:0 0;top:22.47px;font-size:30.4px;line-height:30.4px;color:#fff;transform:scaleX(0.798);">309.06820</span>
<span class="t" style="right:54.39999999999998px;transform-origin:100% 0;top:22.47px;font-size:30.4px;line-height:30.4px;color:#fff;transform:scaleX(0.795);">Brake Pad</span>
<span class="t" style="left:49.3px;transform-origin:0 0;top:416.86px;font-size:16px;line-height:16px;color:#fff;transform:scaleX(0.82);">Inner Brake Pads Specs</span>
<span class="t" style="left:221.8px;transform-origin:0 0;top:416.86px;font-size:16px;line-height:16px;color:#fff;transform:scaleX(0.823);">Outer Brake Pads Specs</span>
<span class="t" style="left:470.5px;transform-origin:0 0;top:416.86px;font-size:16px;line-height:16px;color:#fff;transform:scaleX(0.815);">FMSI #</span>
<span class="t" style="left:638.8px;transform-origin:0 0;top:416.86px;font-size:16px;line-height:16px;color:#fff;transform:scaleX(0.823);">Related Parts</span>
<span class="t" style="right:642.4px;transform-origin:100% 0;top:443.54px;font-size:12px;line-height:12px;color:#000;transform:scaleX(0.82);">Inner Pad Width:</span>
<span class="t" style="left:161.6px;transform-origin:0 0;top:443.54px;font-size:12px;line-height:12px;color:#000;transform:scaleX(0.82);">194.5</span>
<span class="t" style="right:642.4px;transform-origin:100% 0;top:459.29px;font-size:12px;line-height:12px;color:#000;transform:scaleX(0.82);">Inner Pad Height:</span>
<span class="t" style="left:161.6px;transform-origin:0 0;top:459.29px;font-size:12px;line-height:12px;color:#000;transform:scaleX(0.82);">73.5</span>
<span class="t" style="right:642.4px;transform-origin:100% 0;top:475.04px;font-size:12px;line-height:12px;color:#000;transform:scaleX(0.82);">Inner Pad Thk w/o Shim:</span>
<span class="t" style="left:161.6px;transform-origin:0 0;top:475.04px;font-size:12px;line-height:12px;color:#000;transform:scaleX(0.82);">19.7</span>
<span class="t" style="right:642.4px;transform-origin:100% 0;top:490.79px;font-size:12px;line-height:12px;color:#000;transform:scaleX(0.82);">Sensor Wire Length:</span>
<span class="t" style="right:466.2px;transform-origin:100% 0;top:443.54px;font-size:12px;line-height:12px;color:#000;transform:scaleX(0.82);">Outer Pad Width:</span>
<span class="t" style="left:338.6px;transform-origin:0 0;top:443.54px;font-size:12px;line-height:12px;color:#000;transform:scaleX(0.82);">194.5</span>
<span class="t" style="right:466.2px;transform-origin:100% 0;top:459.29px;font-size:12px;line-height:12px;color:#000;transform:scaleX(0.82);">Outer Pad Height:</span>
<span class="t" style="left:338.6px;transform-origin:0 0;top:459.29px;font-size:12px;line-height:12px;color:#000;transform:scaleX(0.82);">73.5</span>
<span class="t" style="right:466.2px;transform-origin:100% 0;top:475.04px;font-size:12px;line-height:12px;color:#000;transform:scaleX(0.82);">Outer Pad Thk w/o Shim:</span>
<span class="t" style="left:338.6px;transform-origin:0 0;top:475.04px;font-size:12px;line-height:12px;color:#000;transform:scaleX(0.82);">19.7</span>
<span class="t" style="left:392.4px;transform-origin:0 0;top:443.54px;font-size:12px;line-height:12px;color:#000;transform:scaleX(0.79);">FMSI:</span>
<span class="t" style="left:423.6px;transform-origin:0 0;top:443.54px;font-size:12px;line-height:12px;color:#000;transform:scaleX(0.82);">7561D682</span>
<span class="t" style="left:496.6px;transform-origin:0 0;top:443.54px;font-size:12px;line-height:12px;color:#000;transform:scaleX(0.79);">FMSI:</span>
<span class="t" style="left:392.4px;transform-origin:0 0;top:459.29px;font-size:12px;line-height:12px;color:#000;transform:scaleX(0.79);">FMSI:</span>
<span class="t" style="left:423.6px;transform-origin:0 0;top:459.29px;font-size:12px;line-height:12px;color:#000;transform:scaleX(0.82);">D1115</span>
<span class="t" style="left:496.6px;transform-origin:0 0;top:459.29px;font-size:12px;line-height:12px;color:#000;transform:scaleX(0.79);">FMSI:</span>
<span class="t" style="left:392.4px;transform-origin:0 0;top:475.04px;font-size:12px;line-height:12px;color:#000;transform:scaleX(0.79);">FMSI:</span>
<span class="t" style="left:423.6px;transform-origin:0 0;top:475.04px;font-size:12px;line-height:12px;color:#000;transform:scaleX(0.82);">D682</span>
<span class="t" style="left:496.6px;transform-origin:0 0;top:475.04px;font-size:12px;line-height:12px;color:#000;transform:scaleX(0.79);">FMSI:</span>
<span class="t" style="left:392.4px;transform-origin:0 0;top:490.79px;font-size:12px;line-height:12px;color:#000;transform:scaleX(0.79);">FMSI:</span>
<span class="t" style="left:496.6px;transform-origin:0 0;top:490.79px;font-size:12px;line-height:12px;color:#000;transform:scaleX(0.79);">FMSI:</span>
<span class="t" style="left:392.4px;transform-origin:0 0;top:506.54px;font-size:12px;line-height:12px;color:#000;transform:scaleX(0.79);">FMSI:</span>
<span class="t" style="left:496.6px;transform-origin:0 0;top:506.54px;font-size:12px;line-height:12px;color:#000;transform:scaleX(0.79);">FMSI:</span>
<span class="t" style="left:392.4px;transform-origin:0 0;top:522.29px;font-size:12px;line-height:12px;color:#000;transform:scaleX(0.79);">FMSI:</span>
<span class="t" style="left:496.6px;transform-origin:0 0;top:522.29px;font-size:12px;line-height:12px;color:#000;transform:scaleX(0.79);">FMSI:</span>
<span class="t" style="left:392.4px;transform-origin:0 0;top:538.04px;font-size:12px;line-height:12px;color:#000;transform:scaleX(0.79);">FMSI:</span>
<span class="t" style="left:496.6px;transform-origin:0 0;top:538.04px;font-size:12px;line-height:12px;color:#000;transform:scaleX(0.79);">FMSI:</span>
<span class="t" style="left:603.8px;transform-origin:0 0;top:443.54px;font-size:12px;line-height:12px;color:#000;transform:scaleX(0.812);">Hardware Kit #:</span>
<span class="t" style="left:96.6px;transform-origin:0 0;top:554.95px;font-size:14px;line-height:14px;color:#000;transform:scaleX(0.845);">Note 1:</span>
<span class="t" style="left:96.6px;transform-origin:0 0;top:573.95px;font-size:14px;line-height:14px;color:#000;transform:scaleX(0.845);">Note 2:</span>
</body></html>
